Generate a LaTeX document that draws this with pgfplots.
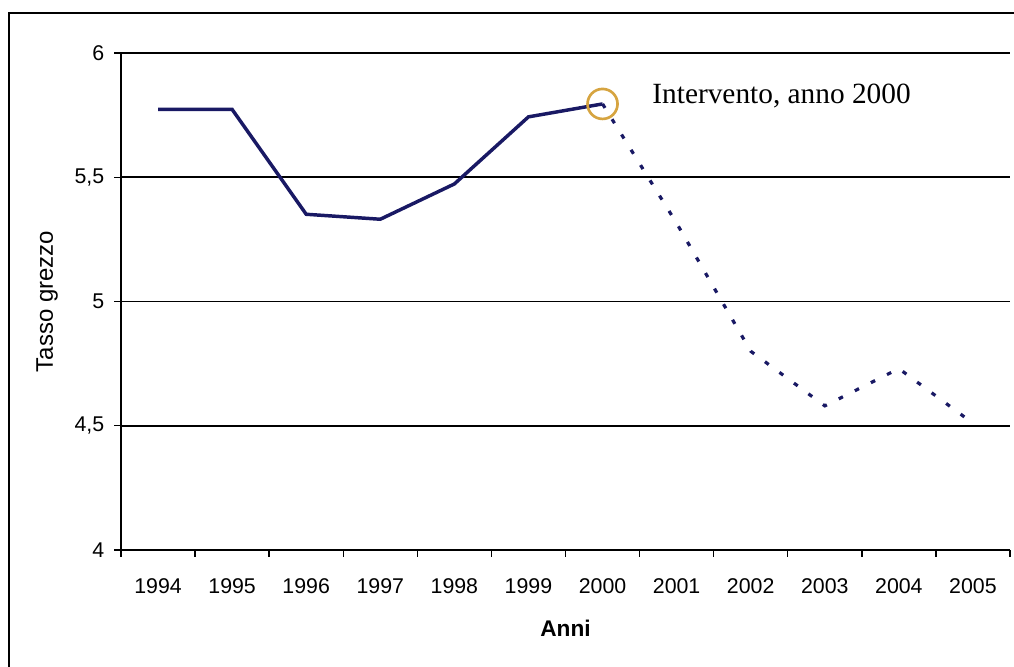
\documentclass[border=0pt]{standalone}
\usepackage{pgfplots}
\pgfplotsset{compat=1.18}
\usepackage{fontspec}
\setmainfont{Liberation Sans}
\newfontfamily\seriffont{Liberation Serif}
\definecolor{navyline}{RGB}{25,25,100}
\definecolor{ochre}{RGB}{214,164,64}
\begin{document}
\begin{tikzpicture}
\path[use as bounding box] (-90.75pt,-87.75pt) rectangle (669.75pt,412.5pt);
\draw[line width=1.5pt] (-84pt,-100pt) -- (-84pt,402.75pt) -- (700pt,402.75pt);
\begin{axis}[
  at={(0,0)}, anchor=south west, scale only axis,
  width=666.75pt, height=372.75pt,
  xmin=0, xmax=12, ymin=4, ymax=6,
  axis x line*=bottom, axis y line*=left,
  axis line style={line width=1.4pt, -},
  tick align=outside,
  xtick={0.5,1.5,2.5,3.5,4.5,5.5,6.5,7.5,8.5,9.5,10.5,11.5},
  xticklabels={1994,1995,1996,1997,1998,1999,2000,2001,2002,2003,2004,2005},
  major x tick style={draw=none},
  minor xtick={0,1,2,3,4,5,6,7,8,9,10,11,12},
  minor tick length=5pt,
  minor x tick style={black, line width=1.1pt},
  ytick={4,4.5,5,5.5,6},
  major tick length=5pt,
  major y tick style={black, line width=1.1pt},
  ymajorgrids,
  major grid style={black, line width=1.4pt},
  /pgf/number format/use comma,
  /pgf/number format/assume math mode=true,
  tick label style={font=\fontsize{16}{19}\selectfont},
  xticklabel style={anchor=center, yshift=-21.75pt},
  yticklabel style={anchor=east, xshift=-4pt},
  xlabel={\textbf{Anni}},
  ylabel={Tasso grezzo},
  xlabel style={font=\fontsize{17}{20}\selectfont, at={(axis description cs:0.5,-0.157)}, anchor=center},
  ylabel style={font=\fontsize{18}{21}\selectfont, at={(axis description cs:-0.0832,0.5)}, anchor=center},
  clip=false,
]
\addplot[navyline, line width=2.6pt] coordinates {
  (0.5,5.773) (1.5,5.773) (2.5,5.351) (3.5,5.331) (4.5,5.473) (5.5,5.743) (6.5,5.795)
};
\addplot[navyline, line width=2.4pt, dash pattern=on 3.5pt off 10pt] coordinates {
  (6.5,5.795) (7.5,5.315) (8.5,4.80) (9.5,4.58) (10.5,4.73) (11.5,4.51)
};
\addplot[only marks, mark=o, mark size=11.25pt, mark options={draw=ochre, line width=2pt}] coordinates {(6.5,5.795)};
\node[anchor=base west, inner sep=0pt, font=\seriffont\fontsize{22}{26}\selectfont] at (axis cs:7.17,5.798) {Intervento, anno 2000};
\end{axis}
\end{tikzpicture}
\end{document}
